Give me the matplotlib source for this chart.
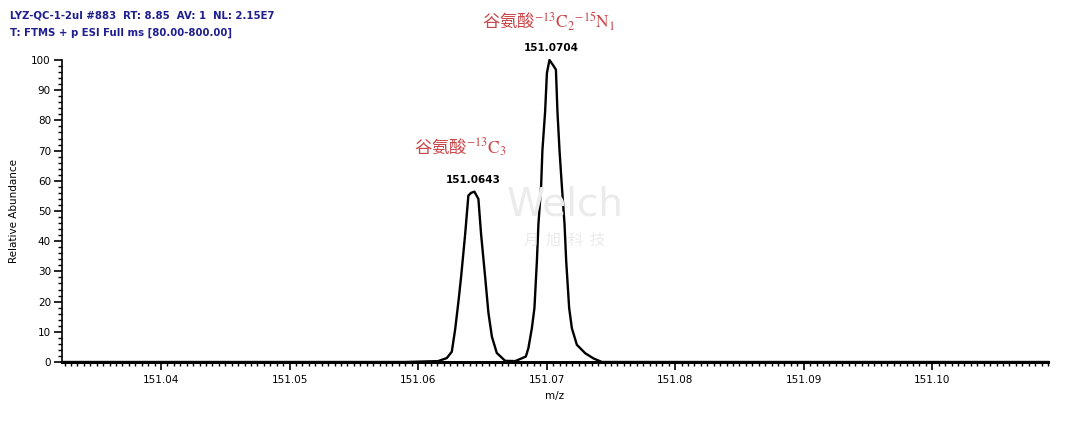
import matplotlib
matplotlib.use("Agg")
import matplotlib.pyplot as plt
from matplotlib.ticker import MultipleLocator

plt.rcParams['font.family'] = ['DejaVu Sans']
plt.rcParams['mathtext.fontset'] = 'stix'

# spectrum profile (m/z, relative abundance)
mz = [151.0323, 151.0590, 151.06156, 151.06223, 151.06262, 151.06288, 151.06314,
      151.06335, 151.06366, 151.06391, 151.06412, 151.06438, 151.06469, 151.06490,
      151.06521, 151.06547, 151.06574, 151.06612, 151.06677, 151.06755, 151.06838,
      151.06858, 151.06885, 151.06905, 151.06924, 151.06936, 151.06957, 151.06967,
      151.06988, 151.07002, 151.07022, 151.07048, 151.07072, 151.07084, 151.07100,
      151.07118, 151.07139, 151.07152, 151.07175, 151.07196, 151.07235, 151.07300,
      151.07364, 151.07430, 151.1090]
abund = [0, 0, 0.3, 1.3, 3.4, 10.7, 20.1,
         28.4, 42.3, 55.1, 56.0, 56.4, 54.0, 42.3,
         28.4, 16.3, 8.4, 3.0, 0.4, 0.3, 1.8,
         4.6, 11.2, 17.9, 33.4, 45.7, 58.4, 70.1,
         82.9, 95.7, 100.0, 98.4, 96.8, 82.9, 70.1,
         58.4, 45.7, 33.4, 17.9, 11.2, 5.7, 2.9,
         1.2, 0, 0]

peak_mz = [151.0643, 151.0704]
peak_labels = ["151.0643", "151.0704"]
peak_heights = [56.4, 100.0]
names = ['谷氨酸$^{-13}\\mathrm{C}_{3}$',
         '谷氨酸$^{-13}\\mathrm{C}_{2}{}^{-15}\\mathrm{N}_{1}$']
xticks = [151.04, 151.05, 151.06, 151.07, 151.08, 151.09, 151.10]
yticks = [0, 10, 20, 30, 40, 50, 60, 70, 80, 90, 100]

fig = plt.figure(figsize=(10.8, 4.3), dpi=100)
ax = fig.add_axes([0.0574, 0.1581, 0.9130, 0.7024])

ax.plot(mz, abund, color="black", lw=1.7, clip_on=False)
ax.set_xlim(151.0323, 151.1090)
ax.set_ylim(0, 100)

ax.spines['top'].set_visible(False)
ax.spines['right'].set_visible(False)
ax.spines['bottom'].set_linewidth(2.2)
ax.spines['left'].set_linewidth(1.2)

ax.set_xticks(xticks)
ax.set_xticklabels(["%.2f" % t for t in xticks])
ax.set_yticks(yticks)
ax.xaxis.set_minor_locator(MultipleLocator(0.0005))
ax.yaxis.set_minor_locator(MultipleLocator(2))
ax.tick_params(axis='both', which='major', length=6, width=1.2, labelsize=7.5, direction='out')
ax.tick_params(axis='both', which='minor', length=3, width=1.0, direction='out')
ax.tick_params(axis='x', pad=3)
ax.tick_params(axis='y', pad=2)

ax.set_xlabel("m/z", fontsize=7.5, labelpad=5)
ax.set_ylabel("Relative Abundance", fontsize=7.5, labelpad=9)

# peak labels
for x, lab, h in zip(peak_mz, peak_labels, peak_heights):
    ax.annotate(lab, (x, h), xytext=(0, 5), textcoords='offset points',
                ha='center', va='bottom', fontsize=7.5, fontweight='bold')

# red compound names
red = "#c9474a"
fig.text(460 / 1080, 1 - 148 / 430, names[0], color=red, fontsize=12.5,
         family=['Noto Sans CJK SC', 'DejaVu Sans'], ha='center', va='center')
fig.text(549 / 1080, 1 - 22 / 430, names[1], color=red, fontsize=12.5,
         family=['Noto Sans CJK SC', 'DejaVu Sans'], ha='center', va='center')

# header
navy = "#1f1f8f"
fig.text(10 / 1080, 1 - 15 / 430, "LYZ-QC-1-2ul #883  RT: 8.85  AV: 1  NL: 2.15E7",
         color=navy, fontsize=7.3, fontweight='bold', va='center')
fig.text(10 / 1080, 1 - 33 / 430, "T: FTMS + p ESI Full ms [80.00-800.00]",
         color=navy, fontsize=7.3, fontweight='bold', va='center')

# watermark
fig.text(565 / 1080, 1 - 205 / 430, "Welch", color="#ebebeb", fontsize=28,
         ha='center', va='center', zorder=0)
fig.text(565 / 1080, 1 - 240 / 430, "月  旭  科  技", color="#ebebeb", fontsize=11,
         family=['Noto Sans CJK SC', 'DejaVu Sans'], ha='center', va='center', zorder=0)

plt.savefig("out.png", dpi=100)
